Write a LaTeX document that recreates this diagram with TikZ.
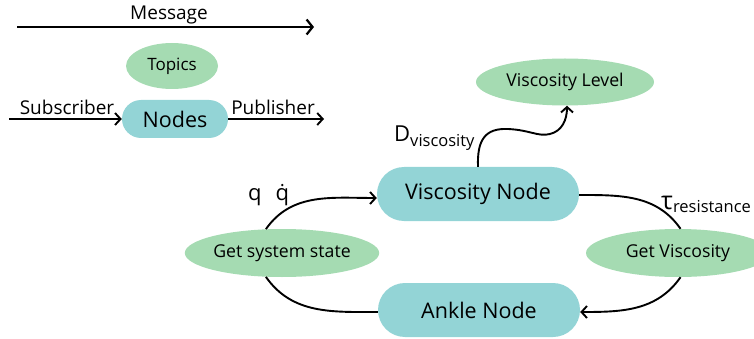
\documentclass[tikz,border=0pt]{standalone}
\usepackage{fontspec}
\setmainfont{Open Sans}
\usetikzlibrary{arrows.meta,shapes.geometric,shapes.misc}
\definecolor{tgreen}{RGB}{165,219,178}
\definecolor{tteal}{RGB}{147,212,214}
\begin{document}
\begin{tikzpicture}[
  pill/.style={rounded rectangle, fill=tteal, minimum width=202pt, minimum height=54pt, inner sep=0pt, font=\fontsize{21.5}{24}\selectfont},
  ell/.style={ellipse, fill=tgreen, inner sep=0pt, font=\fontsize{17.7}{20}\selectfont},
  lbl/.style={inner sep=0pt, font=\fontsize{19}{22}\selectfont},
  tip/.style={-{Straight Barb[length=5.5pt,width=12pt]}},
  conn/.style={line width=1.9pt},
]
\useasboundingbox (0,0) rectangle (754pt,-339pt);
\begin{scope}[x=1pt,y=1pt]
% legend
\node[lbl, anchor=base] (msg) at (169,-20) {Message};
\coordinate (m1) at (17,-27);
\coordinate (m2) at (314,-27);
\draw[line width=2.2pt, -{Straight Barb[length=6pt,width=15pt]}] (m1) -- (m2);
\node[ell, minimum width=92pt, minimum height=46pt, font=\fontsize{17}{20}\selectfont] (topics) at (172,-66) {Topics};
\node[pill, minimum width=106pt, minimum height=38pt] (nodes) at (175,-119) {Nodes};
\coordinate (s1) at (9,-119);
\coordinate (p2) at (324,-119);
\draw[conn, tip] (s1) -- (nodes.west);
\draw[conn, tip] (nodes.east) -- (p2);
\node[lbl, anchor=base] (sub) at (67,-115) {Subscriber};
\node[lbl, anchor=base] (pub) at (273,-115) {Publisher};
% main
\node[ell, minimum width=178pt, minimum height=47pt] (vl) at (565,-82) {Viscosity Level};
\node[pill] (vn) at (478,-194) {Viscosity Node};
\node[pill] (an) at (479,-310) {Ankle Node};
\node[ell, minimum width=179pt, minimum height=48pt] (gss) at (282,-253) {Get system state};
\node[ell, minimum width=184pt, minimum height=48pt] (gv) at (678,-253) {Get Viscosity};
\draw[conn, tip] (gss.124) to[out=55,in=180] ([yshift=-4pt]vn.west);
\draw[conn] (gss.236) to[out=-55,in=180] ([yshift=-2pt]an.west);
\draw[conn] ([yshift=-1pt]vn.east) to[out=0,in=125] (gv.84);
\draw[conn, tip] (gv.276) to[out=-125,in=0] ([yshift=-2pt]an.east);
\draw[conn, tip] (vn.north) .. controls (477,-140) and (485,-128) .. (508,-129)
   .. controls (530,-130) and (538,-137) .. (550,-134)
   .. controls (562,-131) and (567,-120) .. ([xshift=2pt]vl.south);
% labels
\node[inner sep=0pt, anchor=base west, font=\fontsize{22}{24}\selectfont] (qlab) at (248,-200) {q\hspace{14pt}\ooalign{q\cr\hidewidth ˙\hidewidth\cr}};
\node[inner sep=0pt, anchor=base west] (dlab) at (394,-142) {\fontsize{22}{24}\selectfont D\raisebox{-5pt}{\fontsize{16.5}{18}\selectfont viscosity}};
\node[inner sep=0pt, anchor=base west] (tlab) at (661,-209) {\fontsize{25}{26}\selectfont τ\raisebox{-3pt}{\fontsize{16.5}{18}\selectfont resistance}};
\end{scope}
\end{tikzpicture}
\end{document}
